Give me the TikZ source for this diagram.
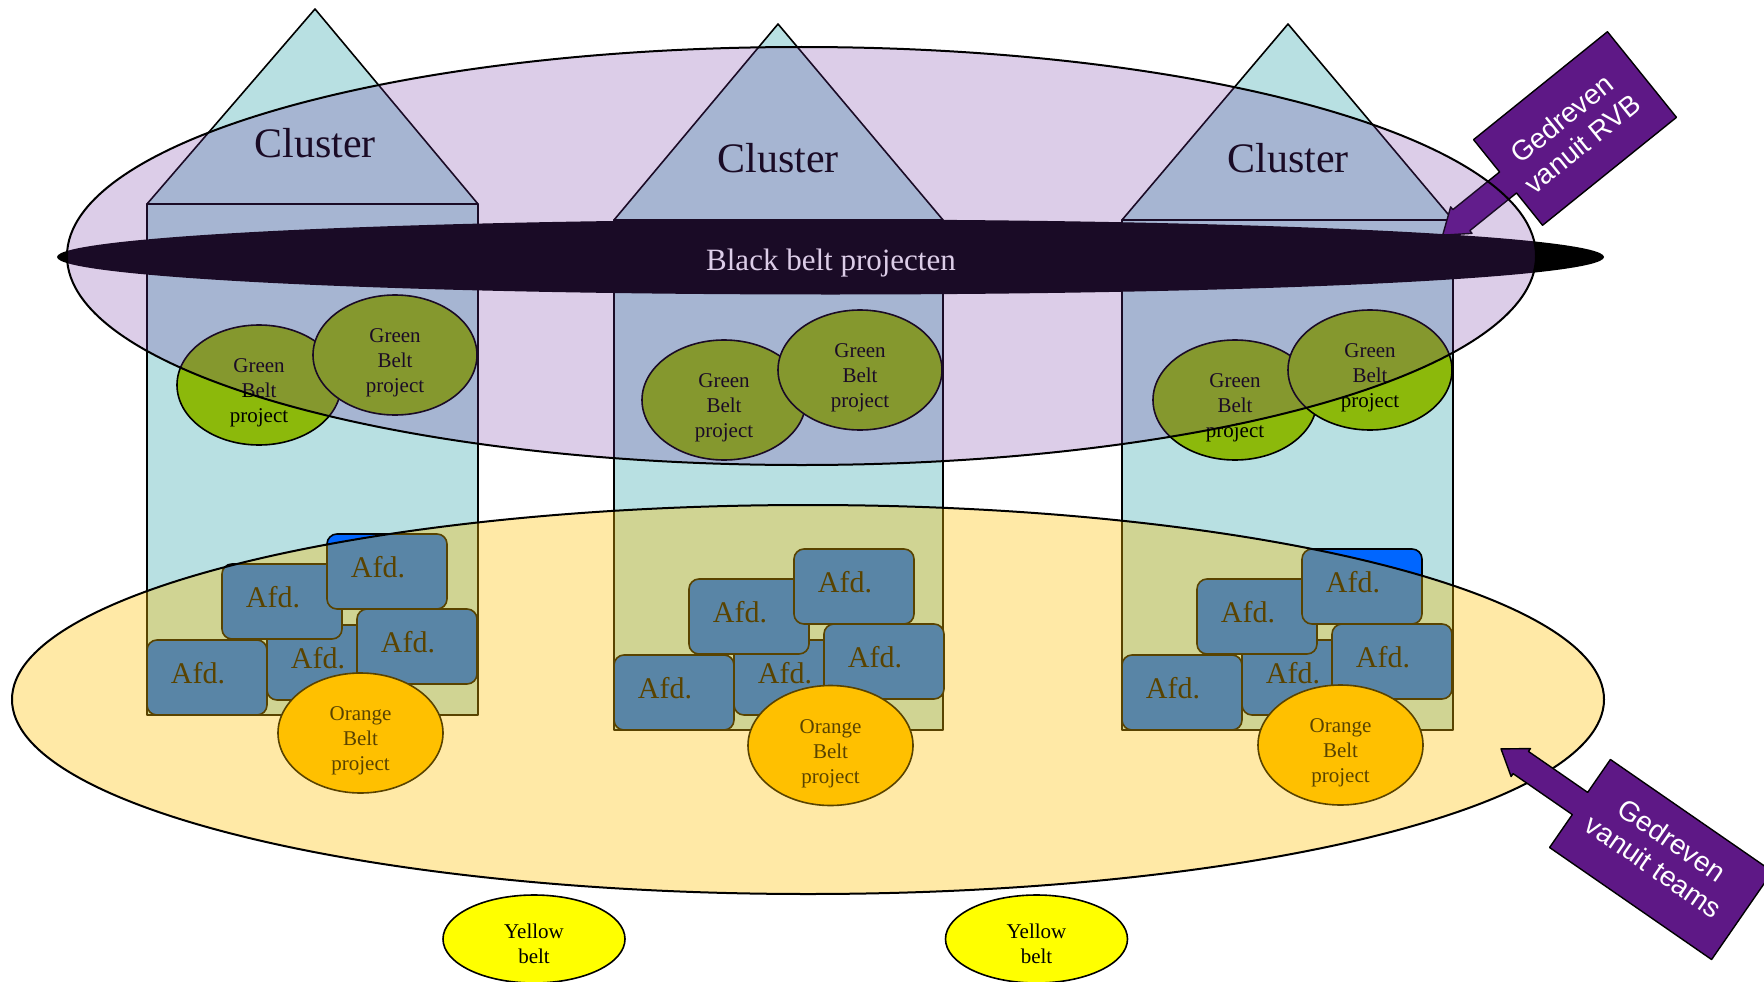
\documentclass[tikz,border=0pt]{standalone}
\usepackage{fontspec}
\setmainfont{Liberation Serif}
\newfontfamily\arialf{Liberation Sans}
\usetikzlibrary{shapes.geometric,calc}
\definecolor{clcyan}{HTML}{B8E0E2}
\definecolor{greenbelt}{HTML}{8CB90B}
\definecolor{orangebelt}{HTML}{FFC000}
\definecolor{afdblue}{HTML}{0066FF}
\definecolor{purpov}{HTML}{7030A0}
\definecolor{yellowov}{HTML}{FFC000}
\definecolor{callpurple}{HTML}{5E1886}
\definecolor{yellowbelt}{HTML}{FFFF00}
\newcommand\fclus{\fontsize{42}{48}\selectfont}
\newcommand\fband{\fontsize{31}{36}\selectfont}
\newcommand\fsml{\fontsize{21}{25}\selectfont}
\newcommand\fafd{\fontsize{30}{36}\selectfont}
\newcommand\fcall{\arialf\fontsize{28}{32}\selectfont}
\newcommand\afdtxt{Afd.\hspace*{18pt}}
\begin{document}
\begin{tikzpicture}[x=1pt,y=-1pt,line join=round,
  outl/.style={draw=black,line width=1.6pt},
  clust/.style={outl,fill=clcyan},
  greenell/.style={ellipse,outl,fill=greenbelt,minimum width=164,minimum height=120,inner sep=0pt},
  orangeell/.style={ellipse,outl,fill=orangebelt,minimum width=165,minimum height=120,inner sep=0pt},
  yellowell/.style={ellipse,outl,fill=yellowbelt,minimum width=182,minimum height=88,inner sep=0pt},
  ptext/.style={font=\fsml,align=center,inner sep=0pt},
  afdbox/.style={rectangle,rounded corners=10pt,outl,fill=afdblue,minimum width=120,minimum height=75,inner sep=0pt,font=\fafd,text depth=10pt},
  clustertext/.style={font=\fclus,anchor=base,inner sep=0pt},
  callout/.style={draw=black,line width=1.4pt,fill=callpurple},
  calltext/.style={font=\fcall,text=white,align=center,inner sep=0pt}]
\clip (0,0) rectangle (1764,982);
\fill[white] (0,0) rectangle (1764,982);
% clusters
\draw[clust] (147,204) rectangle (478,715);
\draw[clust] (147,204) -- (315,9) -- (478,204) -- cycle;
\draw[clust] (614,220) rectangle (943,730);
\draw[clust] (614,220) -- (778,24) -- (943,220) -- cycle;
\draw[clust] (1122,220) rectangle (1453,730);
\draw[clust] (1122,220) -- (1288,24) -- (1453,220) -- cycle;
% top callout
\begin{scope}[shift={(1575,128.5)},rotate=38.87]
\draw[callout] (-86,-55) -- (86,-55) -- (86,55) -- (-86,55) -- (-86,13.5) -- (-146,13.5) -- (-146,17) -- (-170,0) -- (-146,-17) -- (-146,-13.5) -- (-86,-13.5) -- cycle;
\end{scope}
% black belt band
\fill[black] (830.5,257) ellipse [x radius=773.5, y radius=37.5];
\node[font=\fband,text=white,anchor=base,inner sep=0pt] (bbt) at (831,270) {Black belt projecten};
% cluster titles
\node[clustertext] (ct1) at (315,157) {Cluster};
\node[clustertext] (ct2) at (778,172) {Cluster};
\node[clustertext] (ct3) at (1288,172) {Cluster};
% green belt projects
\node[greenell] (g1a) at (259,385) {};
\node[ptext] (g1at) at ([yshift=-8pt]g1a.center) {Green\\Belt\\project};
\node[greenell] (g1b) at (395,355) {};
\node[ptext] (g1bt) at ([yshift=-8pt]g1b.center) {Green\\Belt\\project};
\node[greenell] (g2a) at (724,400) {};
\node[ptext] (g2at) at ([yshift=-8pt]g2a.center) {Green\\Belt\\project};
\node[greenell] (g2b) at (860,370) {};
\node[ptext] (g2bt) at ([yshift=-8pt]g2b.center) {Green\\Belt\\project};
\node[greenell] (g3a) at (1235,400) {};
\node[ptext] (g3at) at ([yshift=-8pt]g3a.center) {Green\\Belt\\project};
\node[greenell] (g3b) at (1370,370) {};
\node[ptext] (g3bt) at ([yshift=-8pt]g3b.center) {Green\\Belt\\project};
% Afd boxes, left cluster
\node[afdbox] (a1e) at (207,677.5) {\afdtxt};
\node[afdbox] (a1d) at (327,662.5) {\afdtxt};
\node[afdbox] (a1b) at (282,601.5) {\afdtxt};
\node[afdbox] (a1a) at (387,571.5) {\afdtxt};
\node[afdbox] (a1c) at (417,646.5) {\afdtxt};
% middle cluster
\node[afdbox] (a2e) at (674,692.5) {\afdtxt};
\node[afdbox] (a2d) at (794,677.5) {\afdtxt};
\node[afdbox] (a2b) at (749,616.5) {\afdtxt};
\node[afdbox] (a2a) at (854,586.5) {\afdtxt};
\node[afdbox] (a2c) at (884,661.5) {\afdtxt};
% right cluster
\node[afdbox] (a3e) at (1182,692.5) {\afdtxt};
\node[afdbox] (a3d) at (1302,677.5) {\afdtxt};
\node[afdbox] (a3b) at (1257,616.5) {\afdtxt};
\node[afdbox] (a3a) at (1362,586.5) {\afdtxt};
\node[afdbox] (a3c) at (1392,661.5) {\afdtxt};
% orange belt projects
\node[orangeell] (o1) at (360.5,733) {};
\node[ptext] (o1t) at ([yshift=-8pt]o1.center) {Orange\\Belt\\project};
\node[orangeell] (o2) at (830.5,745.5) {};
\node[ptext] (o2t) at ([yshift=-8pt]o2.center) {Orange\\Belt\\project};
\node[orangeell] (o3) at (1340.5,745) {};
\node[ptext] (o3t) at ([yshift=-8pt]o3.center) {Orange\\Belt\\project};
% overlays
\draw[line width=2pt,fill=purpov,fill opacity=0.24] (801.5,256) ellipse [x radius=734.5, y radius=209];
\draw[line width=2pt,fill=yellowov,fill opacity=0.35] (808,699.5) ellipse [x radius=796, y radius=194.5];
% callout texts and bottom callout
\node[calltext,rotate=38.87] (rvb) at (1572,131) {Gedreven\\vanuit RVB};
\begin{scope}[shift={(1661,859.5)},rotate=-34.66]
\draw[callout] (-98.5,-53.5) -- (98.5,-53.5) -- (98.5,53.5) -- (-98.5,53.5) -- (-98.5,13.5) -- (-170.5,13.5) -- (-170.5,17) -- (-194.5,0) -- (-170.5,-17) -- (-170.5,-13.5) -- (-98.5,-13.5) -- cycle;
\end{scope}
\node[calltext,rotate=-34.66] (teams) at (1663,853) {Gedreven\\vanuit teams};
% yellow belts
\node[yellowell] (y1) at (534,939) {};
\node[ptext] (y1t) at ([yshift=-5pt]y1.center) {Yellow\\belt};
\node[yellowell] (y2) at (1036.5,939) {};
\node[ptext] (y2t) at ([yshift=-5pt]y2.center) {Yellow\\belt};
\end{tikzpicture}
\end{document}
